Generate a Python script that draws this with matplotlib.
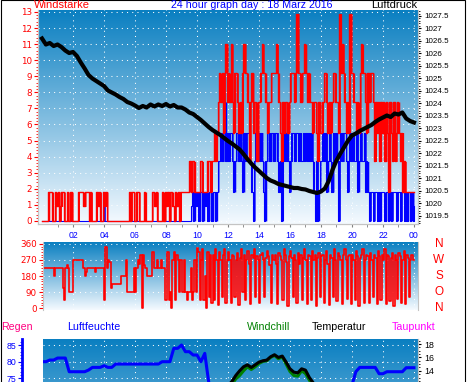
import numpy as np
import matplotlib.pyplot as plt
from matplotlib.colors import LinearSegmentedColormap
from matplotlib.patches import Rectangle
from matplotlib.ticker import MultipleLocator, FixedLocator, FuncFormatter
from matplotlib.transforms import blended_transform_factory

plt.rcParams['font.family'] = ['Liberation Sans', 'DejaVu Sans']

# ---------------- data ----------------
# wind gusts / mean wind, 5 minute values, one row per hour
gust = [
    0, 0, 0, 0, 0, 1.8, 1.8, 1.8, 0, 0, 1.8, 0.9,             # 00
    1.8, 0, 0.9, 1.8, 1.8, 0, 0, 1.8, 0, 0, 1.8, 0,           # 01
    0, 0, 0, 0, 1.8, 1.8, 1.8, 1.8, 0.9, 1.8, 1.8, 1.8,       # 02
    0, 1.8, 0, 0, 0, 0, 1.8, 0.9, 1.8, 0, 0, 1.8,             # 03
    0.9, 1.8, 0, 0, 0, 0, 0, 0, 0, 0, 0, 0,                   # 04
    0, 0, 0, 0, 0, 0, 0, 1.8, 0, 1.8, 1.8, 0,                 # 05
    0, 1.8, 1.8, 0, 0, 0, 0, 1.8, 0, 0, 0, 0,                 # 06
    0, 1.8, 1.8, 0.9, 1.8, 0, 0, 0, 0, 1.8, 0, 1.8,           # 07
    0.9, 1.8, 0, 1.8, 1.8, 0.9, 0, 1.8, 0.9, 1.8, 0, 1.8,     # 08
    1.8, 1.8, 1.8, 1.8, 1.8, 1.8, 3.7, 1.8, 3.7, 3.7, 1.8, 1.8,   # 09
    1.8, 1.8, 3.7, 3.7, 1.8, 1.8, 1.8, 1.8, 3.7, 3.7, 1.8, 3.7,   # 10
    3.7, 5.5, 3.7, 5.5, 7.4, 9.2, 7.4, 9.2, 5.5, 9.2, 11.0, 7.4,  # 11
    9.2, 7.4, 11.0, 7.4, 5.5, 9.2, 9.2, 7.4, 5.5, 7.4, 5.5, 9.2,  # 12
    11.0, 9.2, 9.2, 7.4, 3.7, 7.4, 9.2, 5.5, 7.4, 7.4, 3.7, 7.4,  # 13
    7.4, 9.2, 11.0, 9.2, 9.2, 7.4, 5.5, 7.4, 7.4, 9.2, 9.2, 9.2,  # 14
    9.2, 11.0, 9.2, 7.4, 5.5, 3.7, 7.4, 5.5, 7.4, 7.4, 5.5, 7.4,  # 15
    9.2, 9.2, 9.2, 7.4, 9.2, 12.9, 9.2, 9.2, 7.4, 9.2, 9.2, 11.0, # 16
    9.2, 7.4, 9.2, 7.4, 7.4, 5.5, 7.4, 7.4, 5.5, 3.7, 7.4, 5.5,   # 17
    5.5, 7.4, 9.2, 9.2, 7.4, 5.5, 7.4, 5.5, 7.4, 9.2, 9.2, 7.4,   # 18
    7.4, 5.5, 12.9, 9.2, 11.0, 9.2, 7.4, 5.5, 7.4, 5.5, 12.9, 9.2,  # 19
    9.2, 7.4, 7.4, 5.5, 7.4, 5.5, 9.2, 11.0, 9.2, 9.2, 7.4, 5.5,  # 20
    9.2, 7.4, 9.2, 9.2, 7.4, 3.7, 7.4, 5.5, 7.4, 3.7, 7.4, 5.5,   # 21
    7.4, 3.7, 7.4, 5.5, 1.8, 7.4, 5.5, 3.7, 7.4, 3.7, 5.5, 7.4,   # 22
    5.5, 3.7, 5.5, 1.8, 3.7, 1.8, 1.8, 1.8, 1.8, 1.8, 1.8, 1.8,   # 23
    1.8]

mean = [
    0, 0, 0, 0, 0, 0, 0, 0, 0, 0, 0, 0,                       # 00
    0, 0, 0, 0, 0, 0, 0, 0, 0, 0, 0, 0,                       # 01
    0, 0, 0, 0, 0, 0, 0, 0, 0, 0, 0, 0,                       # 02
    0, 0, 0, 0, 0, 0, 0, 0, 0, 0, 0, 1.8,                     # 03
    0, 0, 0, 0, 0, 0, 0, 0, 0, 0, 0, 0,                       # 04
    0, 0, 0, 0, 0, 0, 0, 0, 0, 0, 0, 0,                       # 05
    0, 0, 0, 0, 0, 0, 0, 0, 0, 0, 0, 0,                       # 06
    0, 0, 0, 0, 0, 0, 0, 0, 0, 0, 0, 0,                       # 07
    0, 0, 0, 0, 0, 0, 0, 0, 0, 0, 0, 0,                       # 08
    0, 0, 0, 0, 0, 0, 0, 0.9, 1.8, 0, 1.8, 0.9,               # 09
    1.8, 0, 1.8, 1.8, 0, 1.8, 0.9, 1.8, 0, 1.8, 1.8, 0,       # 10
    1.8, 1.8, 0, 1.8, 3.7, 3.7, 5.5, 3.7, 5.5, 7.4, 3.7, 5.5, # 11
    3.7, 5.5, 5.5, 3.7, 1.8, 3.7, 5.5, 5.5, 3.7, 5.5, 3.7, 1.8,   # 12
    5.5, 3.7, 5.5, 5.5, 3.7, 3.7, 1.8, 0, 3.7, 5.5, 3.7, 5.5,     # 13
    3.7, 5.5, 3.7, 1.8, 0, 3.7, 5.5, 5.5, 3.7, 5.5, 5.5, 3.7,     # 14
    5.5, 5.5, 3.7, 1.8, 3.7, 0, 3.7, 5.5, 3.7, 5.5, 3.7, 1.8,     # 15
    3.7, 5.5, 5.5, 3.7, 5.5, 5.5, 3.7, 5.5, 3.7, 3.7, 5.5, 3.7,   # 16
    5.5, 3.7, 5.5, 3.7, 5.5, 3.7, 1.8, 0, 3.7, 0, 1.8, 3.7,       # 17
    3.7, 5.5, 3.7, 5.5, 1.8, 3.7, 5.5, 3.7, 1.8, 5.5, 3.7, 5.5,   # 18
    3.7, 0, 3.7, 5.5, 3.7, 5.5, 5.5, 3.7, 1.8, 3.7, 5.5, 3.7,     # 19
    5.5, 3.7, 3.7, 5.5, 1.8, 3.7, 5.5, 3.7, 3.7, 5.5, 1.8, 3.7,   # 20
    1.8, 0, 1.8, 1.8, 0, 1.8, 1.8, 0, 1.8, 0, 1.8, 1.8,           # 21
    1.8, 0, 1.8, 1.8, 0, 1.8, 0, 1.8, 1.8, 1.8, 0, 1.8,           # 22
    1.8, 0, 1.8, 1.8, 0, 1.8, 0, 1.8, 1.8, 0, 1.8, 0,             # 23
    0.9]

# wind direction in degrees, 5 minute values
direction = [
    225, 225, 225, 225, 225, 225, 225, 225, 225, 180, 225, 225,  # 00
    225, 225, 225, 225, 110, 45, 225, 240, 225, 90, 90, 90,      # 01
    270, 270, 270, 270, 270, 270, 270, 270, 225, 180, 200, 225,  # 02
    225, 225, 225, 225, 225, 205, 225, 225, 225, 225, 225, 225,  # 03
    45, 345, 225, 270, 260, 112, 135, 135, 135, 135, 135, 135,   # 04
    135, 180, 180, 180, 180, 270, 90, 90, 90, 90, 90, 225,       # 05
    90, 225, 270, 250, 300, 0, 300, 240, 225, 180, 180, 180,     # 06
    180, 315, 315, 225, 225, 270, 225, 225, 270, 225, 225, 45,   # 07
    45, 315, 45, 90, 0, 270, 315, 45, 300, 270, 90, 270,         # 08
    90, 90, 270, 90, 45, 90, 90, 225, 45, 90, 270, 90,           # 09
    340, 315, 45, 270, 330, 45, 180, 0, 315, 60, 300, 30,        # 10
    300, 45, 330, 270, 15, 315, 270, 60, 300, 330, 30, 270,      # 11
    315, 270, 30, 300, 290, 60, 270, 310, 15, 280, 330, 90,      # 12
    300, 45, 270, 320, 250, 20, 300, 280, 330, 60, 290, 270,     # 13
    30, 300, 310, 270, 60, 280, 320, 290, 240, 30, 300, 270,     # 14
    300, 250, 20, 310, 290, 270, 45, 330, 300, 260, 10, 290,     # 15
    320, 280, 60, 300, 270, 30, 310, 250, 300, 45, 280, 330,     # 16
    270, 20, 300, 290, 45, 320, 270, 300, 10, 280, 310, 60,      # 17
    290, 300, 30, 270, 320, 250, 15, 300, 280, 60, 330, 270,     # 18
    40, 310, 290, 270, 20, 300, 330, 270, 50, 290, 300, 20,      # 19
    300, 270, 45, 320, 290, 10, 280, 300, 330, 30, 270, 300,     # 20
    290, 30, 310, 270, 60, 300, 280, 20, 320, 290, 45, 300,      # 21
    270, 330, 20, 300, 290, 40, 280, 310, 10, 300, 270, 50,      # 22
    310, 290, 30, 270, 320, 20, 300, 280, 60, 270, 300, 270,     # 23
    270]

# 15 minute values, one row per hour
pressure = [
    1026.60, 1026.36, 1026.42, 1026.30,
    1026.36, 1026.26, 1026.12, 1026.02,
    1026.06, 1025.90, 1025.64, 1025.40,
    1025.14, 1025.00, 1024.90, 1024.80,
    1024.70, 1024.52, 1024.44, 1024.36,
    1024.26, 1024.18, 1024.06, 1024.00,
    1023.92, 1023.82, 1023.90, 1023.84,
    1023.96, 1023.88, 1023.96, 1023.90,
    1023.98, 1023.88, 1023.94, 1023.84,
    1023.84, 1023.76, 1023.64, 1023.58,
    1023.46, 1023.34, 1023.20, 1023.06,
    1022.94, 1022.84, 1022.74, 1022.62,
    1022.50, 1022.40, 1022.28, 1022.16,
    1021.98, 1021.78, 1021.60, 1021.44,
    1021.30, 1021.16, 1021.02, 1020.92,
    1020.86, 1020.78, 1020.74, 1020.70,
    1020.66, 1020.62, 1020.62, 1020.58,
    1020.56, 1020.50, 1020.46, 1020.42,
    1020.48, 1020.60, 1020.90, 1021.36,
    1021.72, 1022.00, 1022.26, 1022.52,
    1022.72, 1022.80, 1022.90, 1022.98,
    1023.06, 1023.14, 1023.26, 1023.36,
    1023.44, 1023.52, 1023.46, 1023.60,
    1023.56, 1023.64, 1023.40, 1023.30,
    1023.24]

humidity = [
    80.0, 80.0, 80.5, 80.5,
    81.1, 81.1, 81.1, 77.0,
    77.0, 77.0, 77.0, 77.0,
    77.5, 78.3, 78.3, 78.3,
    78.8, 78.3, 78.3, 79.3,
    79.3, 79.3, 79.3, 79.3,
    79.3, 79.3, 79.3, 79.3,
    79.3, 79.3, 79.3, 80.0,
    80.0, 80.0, 84.0, 84.0,
    85.0, 83.0, 83.0, 82.0,
    82.0, 80.0, 82.5, 74.0,
    70.0, 67.0, 65.0, 63.0,
    61.0, 60.0, 58.0, 57.0,
    56.0, 55.0, 55.0, 54.0,
    54.0, 53.0, 53.0, 52.0,
    52.0, 52.0, 53.0, 54.0,
    55.0, 56.0, 57.0, 57.0,
    58.0, 59.0, 60.0, 61.0,
    62.0, 63.0, 64.0, 65.0,
    66.0, 67.0, 68.0, 70.0,
    73.0, 77.0, 78.3, 78.3,
    78.3, 78.3, 78.3, 76.4,
    76.4, 77.0, 77.0, 77.0,
    77.0, 77.0, 78.2, 78.2,
    78.2]

temperature = [
    7.2, 7.0, 6.9, 6.8,
    6.6, 6.5, 6.4, 6.2,
    6.1, 6.0, 5.9, 5.8,
    5.7, 5.6, 5.5, 5.4,
    5.3, 5.2, 5.1, 5.0,
    4.9, 4.9, 4.8, 4.8,
    4.8, 4.9, 5.1, 5.4,
    5.8, 6.2, 6.6, 7.0,
    7.4, 7.8, 8.2, 8.6,
    9.0, 9.3, 9.6, 9.9,
    10.1, 10.3, 10.5, 10.7,
    10.8, 10.9, 11.0, 11.0,
    11.8, 12.4, 13.3, 14.0,
    14.6, 14.9, 14.5, 14.9,
    15.3, 15.5, 15.6, 16.1,
    16.4, 16.0, 16.2, 15.3,
    14.3, 13.8, 13.7, 14.3,
    14.1, 13.0, 12.2, 11.6,
    11.0, 10.5, 10.1, 9.8,
    9.5, 9.3, 9.1, 8.9,
    8.7, 8.6, 8.4, 8.3,
    8.2, 8.1, 8.0, 7.9,
    7.8, 7.7, 7.6, 7.5,
    7.4, 7.3, 7.2, 7.1,
    7.0]

windchill = [
    6.5, 6.3, 6.2, 6.1,
    5.9, 5.8, 5.7, 5.5,
    5.4, 5.3, 5.2, 5.1,
    5.0, 4.9, 4.8, 4.7,
    4.6, 4.5, 4.4, 4.3,
    4.2, 4.2, 4.1, 4.1,
    4.1, 4.2, 4.4, 4.7,
    5.1, 5.5, 5.9, 6.3,
    6.7, 7.1, 7.5, 7.9,
    8.3, 8.6, 8.9, 9.2,
    9.4, 9.6, 9.8, 10.0,
    10.1, 10.2, 10.3, 10.3,
    11.5, 12.0, 12.8, 13.3,
    14.0, 14.6, 14.2, 14.6,
    15.1, 15.4, 15.5, 16.0,
    16.3, 15.8, 16.1, 15.0,
    13.9, 13.3, 13.2, 14.0,
    13.6, 12.6, 11.9, 11.3,
    10.5, 10.0, 9.6, 9.3,
    9.0, 8.8, 8.6, 8.4,
    8.2, 8.1, 7.9, 7.8,
    7.7, 7.6, 7.5, 7.4,
    7.3, 7.2, 7.1, 7.0,
    6.9, 6.8, 6.7, 6.6,
    6.5]

hour_ticks = [2, 4, 6, 8, 10, 12, 14, 16, 18, 20, 22, 24]
hour_labels = ['02', '04', '06', '08', '10', '12', '14', '16', '18', '20', '22', '00']
compass = ['N', 'W', 'S', 'O', 'N']
compass_deg = [360, 270, 180, 90, 0]

t5 = np.arange(len(gust)) / 12
t15 = np.arange(len(pressure)) / 4

# ---------------- figure ----------------
W, H = 470, 382
fig = plt.figure(figsize=(W / 100, H / 100), dpi=100)


def box(x0, y0, x1, y1):
    # axes from a pixel box measured from the top left corner
    return fig.add_axes([x0 / W, 1 - y1 / H, (x1 - x0) / W, (y1 - y0) / H])


sky = LinearSegmentedColormap.from_list('sky', ['#0a7fc1', '#f5faff'])
grad = np.linspace(0, 1, 256).reshape(-1, 1)


def background(ax):
    ax.imshow(grad, cmap=sky, extent=[0, 1, 0, 1], transform=ax.transAxes,
              aspect='auto', zorder=0)


def dotted_grid(ax, yvals):
    for h in hour_ticks:
        ax.axvline(h, color='white', lw=0.75, ls=(0, (1, 4)), zorder=1)
    for v in yvals:
        ax.axhline(v, color='white', lw=0.75, ls=(0, (1, 4)), zorder=1)


def gray_spines(ax):
    for name, sp in ax.spines.items():
        sp.set_color('#c4c4c4')
    ax.spines['top'].set_visible(False)


def step_trace(ax, t, vals, color, lw, z):
    # a step line plus a filled block at every jump, like many
    # samples crowded into each pixel column
    v = np.asarray(vals, dtype=float)
    prev = np.concatenate([v[:1], v[:-1]])
    ax.fill_between(t, np.minimum(prev, v), np.maximum(prev, v), step='post',
                    color=color, lw=0, zorder=z)
    ax.plot(t, v, drawstyle='steps-post', color=color, lw=lw, zorder=z)


# ---- top panel: wind speed + pressure ----
ax1 = box(38, 10, 418, 224)
background(ax1)
dotted_grid(ax1, range(0, 14))
step_trace(ax1, t5, mean, '#0000ff', 0.8, 2)
step_trace(ax1, t5, gust, '#ff0000', 1.0, 3)
ax1.set_xlim(-0.26, 24.26)
ax1.set_ylim(-0.19, 13.12)
ax1.set_xticks(hour_ticks)
ax1.set_xticklabels(hour_labels)
ax1.xaxis.set_minor_locator(FixedLocator(range(1, 24, 2)))
ax1.tick_params(axis='x', which='both', length=2.2, color='#808080',
                labelcolor='#0000ff', labelsize=6.3, pad=2.5)
ax1.set_yticks(range(14))
ax1.yaxis.set_minor_locator(MultipleLocator(0.2))
ax1.tick_params(axis='y', which='major', length=3, color='red',
                labelcolor='red', labelsize=6.3, pad=1.5)
ax1.tick_params(axis='y', which='minor', length=1.5, color='red')
for lbl in ax1.get_yticklabels():
    lbl.set_family('DejaVu Sans')
gray_spines(ax1)

ax1r = ax1.twinx()
ax1r.plot(t15, pressure, color='black', lw=3, zorder=4)
ax1r.set_ylim(1019.18, 1027.74)
ax1r.set_yticks(np.arange(1019.5, 1027.6, 0.5))
ax1r.yaxis.set_major_formatter(FuncFormatter(lambda v, p: f'{v:g}'))
ax1r.yaxis.set_minor_locator(MultipleLocator(0.1))
ax1r.tick_params(axis='y', which='major', length=2.5, color='black',
                 labelsize=5.8, pad=2)
ax1r.tick_params(axis='y', which='minor', length=1.3, color='black')
gray_spines(ax1r)

fig.text(34 / W, 1 - 5.5 / H, 'Windstärke', color='red', fontsize=8,
         ha='left', va='center')
fig.text(252 / W, 1 - 5.5 / H, '24 hour graph day : 18 März 2016',
         color='#0000ff', fontsize=7.7, ha='center', va='center')
fig.text(417 / W, 1 - 5.5 / H, 'Luftdruck', color='black', fontsize=8,
         ha='right', va='center')

# ---- middle panel: wind direction ----
ax2 = box(43, 242, 418, 310)
background(ax2)
dotted_grid(ax2, [90, 180, 270, 360])
ax2.plot(t5, direction, drawstyle='steps-post', color='#ff0000', lw=1.2, zorder=2)
ax2.set_xlim(0.06, 24.26)
ax2.set_ylim(-11.2, 371.2)
ax2.set_xticks([])
ax2.set_yticks([0, 90, 180, 270, 360])
ax2.yaxis.set_minor_locator(MultipleLocator(15))
ax2.tick_params(axis='y', which='major', length=3, color='red',
                labelcolor='red', labelsize=6.3, pad=1.5)
ax2.tick_params(axis='y', which='minor', length=1.5, color='red')
for lbl in ax2.get_yticklabels():
    lbl.set_family('DejaVu Sans')
gray_spines(ax2)
ax2.spines['bottom'].set_visible(False)
trans = blended_transform_factory(ax2.transAxes, ax2.transData)
for lbl, deg in zip(compass, compass_deg):
    ax2.text(1.056, deg, lbl, transform=trans, color='red', fontsize=8.5,
             ha='center', va='center', clip_on=False)

# ---- legend row ----
for x0, txt, col in [(1, 'Regen', '#ff0080'), (67, 'Luftfeuchte', '#0000ff'),
                     (247, 'Windchill', '#008000'), (312, 'Temperatur', 'black'),
                     (392, 'Taupunkt', '#ff00ff')]:
    fig.text(x0 / W, 1 - 327 / H, txt, color=col, fontsize=7.7,
             ha='left', va='center')

# ---- bottom panel: humidity + temperatures (cut by the image edge) ----
ax3 = box(43, 339, 418, 553)
background(ax3)
dotted_grid(ax3, [75, 80, 85])
ax3.plot(t15, humidity, color='#0000ff', lw=2.2, zorder=3)
ax3.set_xlim(0.06, 24.26)
ax3.set_ylim(22.7, 86.8)
ax3.set_xticks([])
ax3.yaxis.set_major_locator(FixedLocator([75, 80, 85]))
ax3.yaxis.set_minor_locator(MultipleLocator(1))
ax3.tick_params(axis='y', which='major', length=3, color='#0000ff',
                labelcolor='#0000ff', labelsize=6.3, pad=1.5)
ax3.tick_params(axis='y', which='minor', length=1.5, color='#0000ff')
gray_spines(ax3)
ax3.spines['left'].set_position(('outward', 15))
ax3.spines['left'].set_color('#0000ff')
ax3.spines['left'].set_linewidth(2)

ax3r = ax3.twinx()
ax3r.plot(t15, windchill, color='#008000', lw=2.2, zorder=3)
ax3r.plot(t15, temperature, color='black', lw=2.2, zorder=4)
ax3r.set_ylim(-13.2, 18.75)
ax3r.yaxis.set_major_locator(FixedLocator([14, 16, 18]))
ax3r.yaxis.set_minor_locator(MultipleLocator(0.5))
ax3r.tick_params(axis='y', which='major', length=2.5, color='black',
                 labelsize=6.3, pad=2)
ax3r.tick_params(axis='y', which='minor', length=1.3, color='black')
gray_spines(ax3r)
ax3r.spines['left'].set_visible(False)

# outer black frame
fig.add_artist(Rectangle((0.5 / W, -0.1), 464 / W, 1.1 - 0.5 / H,
                         transform=fig.transFigure, fill=False,
                         edgecolor='black', lw=0.8))

fig.savefig('out.png', dpi=100)
